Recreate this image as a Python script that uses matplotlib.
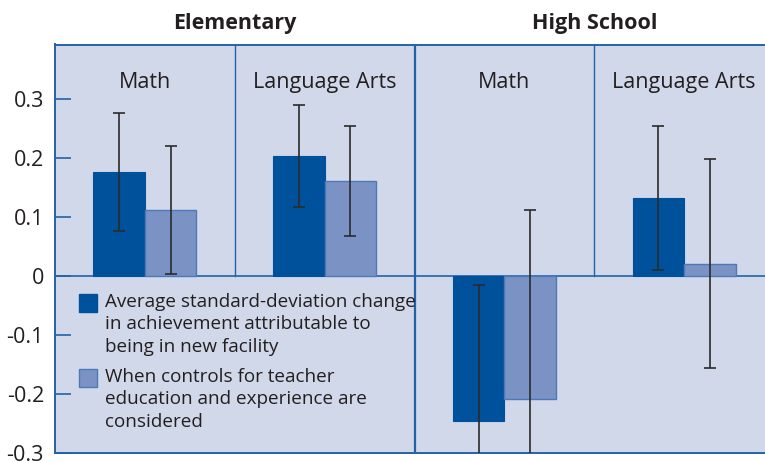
import matplotlib
matplotlib.use("Agg")
import matplotlib.pyplot as plt
from matplotlib.patches import Rectangle

# data (standard-deviation change in achievement)
levels = ["Elementary", "High School"]
subjects = ["Math", "Language Arts", "Math", "Language Arts"]
avg_change = [0.176, 0.203, -0.246, 0.132]
avg_lower = [0.076, 0.116, -0.476, 0.010]
avg_upper = [0.276, 0.289, -0.016, 0.254]
ctrl_change = [0.111, 0.160, -0.208, 0.021]
ctrl_lower = [0.003, 0.067, -0.528, -0.156]
ctrl_upper = [0.220, 0.254, 0.112, 0.198]
yticks = [-0.3, -0.2, -0.1, 0, 0.1, 0.2, 0.3]
ytick_labels = ["-0.3", "-0.2", "-0.1", "0", "0.1", "0.2", "0.3"]
legend_labels = [
    "Average standard-deviation change\nin achievement attributable to\nbeing in new facility",
    "When controls for teacher\neducation and experience are\nconsidered",
]

BG = "#D0D8EA"
DARK = "#00519B"
LIGHT = "#7B93C4"
LIGHT_EDGE = "#4F78B8"
LINE = "#2462A8"
TEXT = "#231F20"
FONT = ["Open Sans", "DejaVu Sans"]

plt.rcParams["font.family"] = FONT

W, H = 765, 462
fig = plt.figure(figsize=(W / 100, H / 100), dpi=100)
fig.patch.set_facecolor("white")

left_px, right_px, top_px, bot_px = 55, 774, 44.5, 453
ax = fig.add_axes([left_px / W, (H - bot_px) / H,
                   (right_px - left_px) / W, (bot_px - top_px) / H])
ax.set_facecolor(BG)
ax.set_xlim(0, 4)
ax.set_ylim(-0.3, 0.392)

bw = 0.287
centers = [i + 0.5 for i in range(4)]
x_dark = [c - bw / 2 for c in centers]
x_light = [c + bw / 2 for c in centers]

ax.bar(x_dark, avg_change, width=bw, color=DARK, edgecolor=DARK, linewidth=0.8, zorder=3)
ax.bar(x_light, ctrl_change, width=bw, color=LIGHT, edgecolor=LIGHT_EDGE, linewidth=1.0, zorder=3)

err_kw = dict(fmt="none", ecolor="#2B2B2B", elinewidth=1.2, capsize=4, capthick=1.2, zorder=4)
ax.errorbar(x_dark, avg_change,
            yerr=[[v - lo for v, lo in zip(avg_change, avg_lower)],
                  [hi - v for v, hi in zip(avg_change, avg_upper)]], **err_kw)
ax.errorbar(x_light, ctrl_change,
            yerr=[[v - lo for v, lo in zip(ctrl_change, ctrl_lower)],
                  [hi - v for v, hi in zip(ctrl_change, ctrl_upper)]], **err_kw)

# panel dividers and zero line
ax.axhline(0, color=LINE, linewidth=1.2, zorder=2)
ax.axvline(2, color=LINE, linewidth=1.6, zorder=2)
for xd in (1, 3):
    ax.plot([xd, xd], [0, 0.392], color=LINE, linewidth=1.0, zorder=2)

for c, s in zip(centers, subjects):
    ax.text(c, 0.328, s, ha="center", va="center", fontsize=15.5, color=TEXT)

for sp in ax.spines.values():
    sp.set_color(LINE)
    sp.set_linewidth(1.4)

ax.set_xticks([])
ax.set_yticks(yticks)
ax.set_yticklabels(ytick_labels)
ax.tick_params(axis="y", direction="in", length=11.5, width=1.2, color=LINE,
               labelsize=15.5, labelcolor=TEXT, pad=8)

# group titles
for lv, xc in zip(levels, [235, 594.5]):
    fig.text(xc / W, 1 - 24 / H, lv, ha="center", va="center",
             fontsize=15.5, fontweight="bold", color=TEXT)

# legend drawn by hand
for i, (lab, col, ec) in enumerate(zip(legend_labels, [DARK, LIGHT], [DARK, LIGHT_EDGE])):
    y0 = 294 + i * 75
    fig.patches.append(Rectangle((79 / W, 1 - (y0 + 17.5) / H), 18 / W, 17.5 / H,
                                 transform=fig.transFigure, facecolor=col,
                                 edgecolor=ec, linewidth=1.0))
    fig.text(105 / W, 1 - (y0 - 1) / H, lab, ha="left", va="top", fontsize=13.6,
             color=TEXT, linespacing=1.32)

fig.savefig("out.png", dpi=100)
